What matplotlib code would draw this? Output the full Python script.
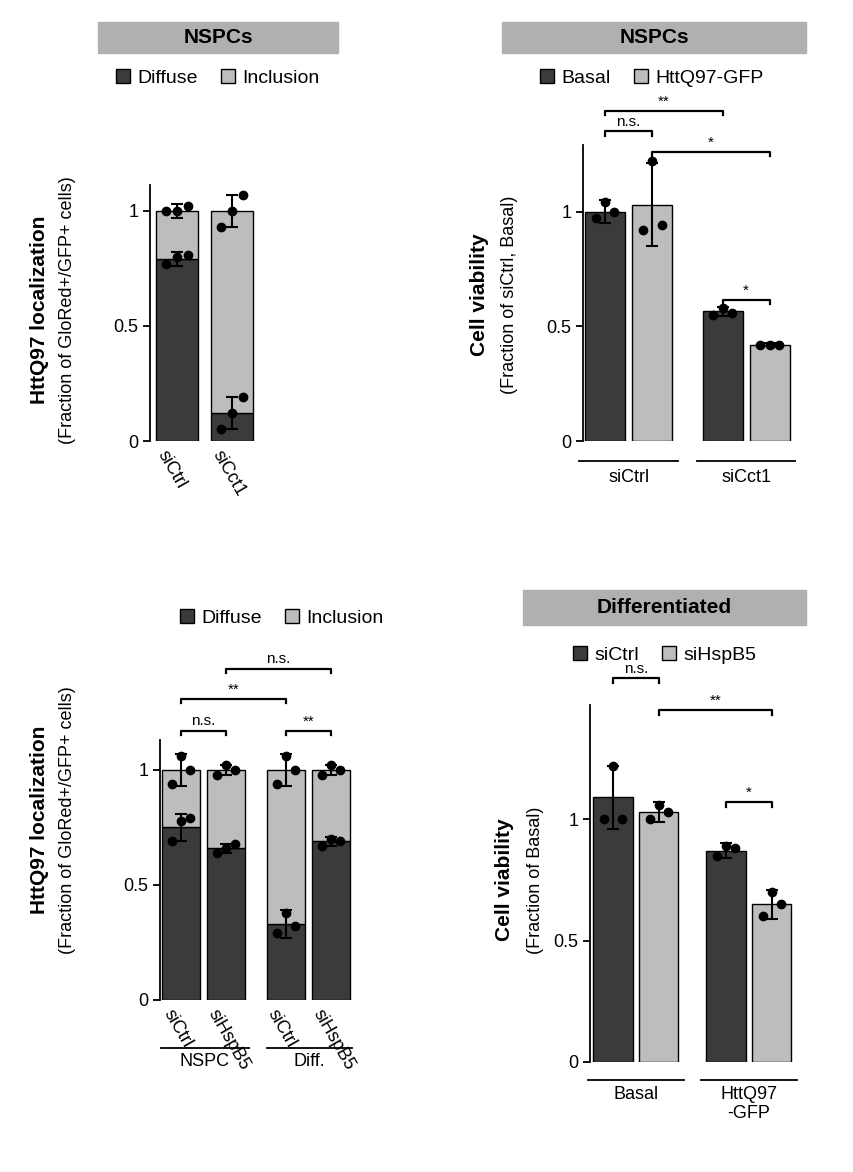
import matplotlib
matplotlib.use("Agg")
import matplotlib.pyplot as plt
from matplotlib.patches import Patch, Rectangle

DARK = "#3b3b3b"
LIGHT = "#bdbdbd"
W, H = 854, 1172

# panel A: localization, NSPCs
a_labels = ["siCtrl", "siCct1"]
a_diffuse = [0.79, 0.12]
a_diffuse_err = [0.03, 0.07]
a_total = [1.0, 1.0]
a_total_err = [0.03, 0.07]
a_diff_pts = [[0.77, 0.80, 0.81], [0.05, 0.12, 0.19]]
a_tot_pts = [[1.0, 1.0, 1.02], [0.93, 1.0, 1.07]]

# panel B: viability, NSPCs
b_groups = ["siCtrl", "siCct1"]
b_basal = [1.0, 0.565]
b_basal_err = [0.05, 0.02]
b_htt = [1.03, 0.42]
b_htt_err = [0.18, 0.005]
b_basal_pts = [[0.97, 1.04, 1.0], [0.55, 0.58, 0.56]]
b_htt_pts = [[0.92, 1.22, 0.94], [0.42, 0.42, 0.42]]

# panel C: localization, NSPC vs Diff
c_labels = ["siCtrl", "siHspB5", "siCtrl", "siHspB5"]
c_diffuse = [0.75, 0.66, 0.33, 0.69]
c_diffuse_err = [0.06, 0.02, 0.06, 0.02]
c_total = [1.0, 1.0, 1.0, 1.0]
c_total_err = [0.07, 0.02, 0.07, 0.02]
c_diff_pts = [[0.69, 0.78, 0.79], [0.64, 0.66, 0.68], [0.29, 0.38, 0.32], [0.67, 0.70, 0.69]]
c_tot_pts = [[0.94, 1.06, 1.0], [0.98, 1.02, 1.0], [0.94, 1.06, 1.0], [0.98, 1.02, 1.0]]

# panel D: viability, differentiated
d_groups = ["Basal", "HttQ97\n-GFP"]
d_ctrl = [1.09, 0.87]
d_ctrl_err = [0.13, 0.03]
d_hsp = [1.03, 0.65]
d_hsp_err = [0.04, 0.06]
d_ctrl_pts = [[1.0, 1.22, 1.0], [0.85, 0.89, 0.88]]
d_hsp_pts = [[1.0, 1.06, 1.03], [0.60, 0.70, 0.65]]

JIT = [-0.2, 0.0, 0.2]

fig = plt.figure(figsize=(W / 100, H / 100), dpi=100)
plt.rcParams["font.family"] = ["Liberation Sans", "DejaVu Sans"]


def px_axes(x0, x1, y_top, y_bot):
    ax = fig.add_axes([x0 / W, 1 - y_bot / H, (x1 - x0) / W, (y_bot - y_top) / H])
    for s in ["top", "right", "bottom"]:
        ax.spines[s].set_visible(False)
    ax.spines["left"].set_linewidth(1.3)
    ax.tick_params(axis="y", labelsize=13, width=1.3, length=5)
    ax.set_xticks([])
    return ax


def dots(ax, x, pts):
    ax.plot([x + j for j in JIT[:len(pts)]], pts, "o", color="black", ms=6, zorder=5, clip_on=False)


def err(ax, x, y, e):
    ax.errorbar(x, y, yerr=e, fmt="none", ecolor="black", elinewidth=1.5, capsize=4,
                capthick=1.5, zorder=6, clip_on=False)


def bracket(ax, x1, x2, y, txt, tick=0.02):
    ax.plot([x1, x1, x2, x2], [y - tick, y, y, y - tick], color="black", lw=1.6, clip_on=False)
    ax.text((x1 + x2) / 2, y + 0.01, txt, ha="center", va="bottom", fontsize=11, clip_on=False)


def title_box(x0, x1, y0, y1, txt):
    fig.patches.append(Rectangle((x0 / W, 1 - y1 / H), (x1 - x0) / W, (y1 - y0) / H,
                                 transform=fig.transFigure, color="#b0b0b0"))
    fig.text((x0 + x1) / 2 / W, 1 - (y0 + y1) / 2 / H, txt, ha="center", va="center",
             fontsize=15, fontweight="bold")


def legend(x, y, names):
    h = [Patch(facecolor=DARK, edgecolor="black"), Patch(facecolor=LIGHT, edgecolor="black")]
    fig.legend(h, names, loc="center", bbox_to_anchor=(x / W, 1 - y / H), ncol=2,
               frameon=False, fontsize=14, handlelength=0.7, handleheight=0.7,
               columnspacing=1.2, handletextpad=0.4)


def ylab(x1, x2, yc, bold, sub):
    fig.text(x1 / W, 1 - yc / H, bold, rotation=90, ha="center", va="center",
             fontsize=15, fontweight="bold")
    fig.text(x2 / W, 1 - yc / H, sub, rotation=90, ha="center", va="center", fontsize=13)


def stacked(ax, xs, width, diff, diff_err, tot, tot_err, dpts, tpts):
    for i, x in enumerate(xs):
        ax.bar(x, diff[i], width, color=DARK, edgecolor="black", lw=1)
        ax.bar(x, tot[i] - diff[i], width, bottom=diff[i], color=LIGHT, edgecolor="black", lw=1)
        err(ax, x, diff[i], diff_err[i])
        err(ax, x, tot[i], tot_err[i])
        dots(ax, x, dpts[i])
        dots(ax, x, tpts[i])


def rot_labels(ax, xs, labels, y):
    for x, l in zip(xs, labels):
        ax.text(x - 0.15, y, l, rotation=-60, ha="left", va="top", rotation_mode="anchor",
                fontsize=13, clip_on=False)


# ---- A
title_box(98, 338, 22, 53, "NSPCs")
legend(218, 78, ["Diffuse", "Inclusion"])
ax = px_axes(150, 260, 185, 441)
xs = [0, 1.02]
stacked(ax, xs, 0.78, a_diffuse, a_diffuse_err, a_total, a_total_err, a_diff_pts, a_tot_pts)
ax.set_xlim(-0.5, 1.54)
ax.set_ylim(0, 1.113)
ax.set_yticks([0, 0.5, 1], ["0", "0.5", "1"])
rot_labels(ax, xs, a_labels, -0.03)
ylab(40, 68, 310, "HttQ97 localization", "(Fraction of GloRed+/GFP+ cells)")

# ---- B
title_box(502, 806, 22, 53, "NSPCs")
legend(652, 78, ["Basal", "HttQ97-GFP"])
ax = px_axes(583, 795, 145, 441)
pos = [0, 2.5]
for i, p in enumerate(pos):
    ax.bar(p, b_basal[i], 0.85, color=DARK, edgecolor="black", lw=1)
    ax.bar(p + 1, b_htt[i], 0.85, color=LIGHT, edgecolor="black", lw=1)
    err(ax, p, b_basal[i], b_basal_err[i])
    err(ax, p + 1, b_htt[i], b_htt_err[i])
    dots(ax, p, b_basal_pts[i])
    dots(ax, p + 1, b_htt_pts[i])
    ax.plot([p - 0.55, p + 1.55], [-0.085, -0.085], color="black", lw=1.3, clip_on=False)
    ax.text(p + 0.5, -0.12, b_groups[i], ha="center", va="top", fontsize=13)
ax.set_xlim(-0.47, 4.04)
ax.set_ylim(0, 1.29)
ax.set_yticks([0, 0.5, 1], ["0", "0.5", "1"])
bracket(ax, 0, 2.5, 1.44, "**")
bracket(ax, 0, 1, 1.35, "n.s.")
bracket(ax, 1, 3.5, 1.26, "*")
bracket(ax, 2.5, 3.5, 0.615, "*")
ylab(480, 510, 295, "Cell viability", "(Fraction of siCtrl, Basal)")

# ---- C
legend(282, 618, ["Diffuse", "Inclusion"])
ax = px_axes(160, 352, 740, 1000)
xs = [0, 1, 2.33, 3.33]
stacked(ax, xs, 0.85, c_diffuse, c_diffuse_err, c_total, c_total_err, c_diff_pts, c_tot_pts)
ax.set_xlim(-0.47, 3.8)
ax.set_ylim(0, 1.13)
ax.set_yticks([0, 0.5, 1], ["0", "0.5", "1"])
rot_labels(ax, xs, c_labels, -0.03)
bracket(ax, 0, 1, 1.17, "n.s.")
bracket(ax, 2.33, 3.33, 1.17, "**")
bracket(ax, 0, 2.33, 1.31, "**")
bracket(ax, 1, 3.33, 1.44, "n.s.")
for a, b, t in [(-0.45, 1.5, "NSPC"), (1.9, 3.8, "Diff.")]:
    ax.plot([a, b], [-0.21, -0.21], color="black", lw=1.3, clip_on=False)
    ax.text((a + b) / 2, -0.23, t, ha="center", va="top", fontsize=13)
ylab(40, 68, 820, "HttQ97 localization", "(Fraction of GloRed+/GFP+ cells)")

# ---- D
title_box(523, 806, 590, 625, "Differentiated")
legend(665, 655, ["siCtrl", "siHspB5"])
ax = px_axes(590, 800, 705, 1062)
pos = [0, 2.46]
for i, p in enumerate(pos):
    ax.bar(p, d_ctrl[i], 0.85, color=DARK, edgecolor="black", lw=1)
    ax.bar(p + 1, d_hsp[i], 0.85, color=LIGHT, edgecolor="black", lw=1)
    err(ax, p, d_ctrl[i], d_ctrl_err[i])
    err(ax, p + 1, d_hsp[i], d_hsp_err[i])
    dots(ax, p, d_ctrl_pts[i])
    dots(ax, p + 1, d_hsp_pts[i])
    ax.plot([p - 0.55, p + 1.55], [-0.075, -0.075], color="black", lw=1.3, clip_on=False)
    ax.text(p + 0.5, -0.1, d_groups[i], ha="center", va="top", fontsize=13, linespacing=1.1)
ax.set_xlim(-0.5, 4.07)
ax.set_ylim(0, 1.47)
ax.set_yticks([0, 0.5, 1], ["0", "0.5", "1"])
bracket(ax, 0, 1, 1.58, "n.s.")
bracket(ax, 1, 3.46, 1.45, "**")
bracket(ax, 2.46, 3.46, 1.07, "*")
ylab(505, 535, 880, "Cell viability", "(Fraction of Basal)")

fig.savefig("out.png", dpi=100, facecolor="white")
